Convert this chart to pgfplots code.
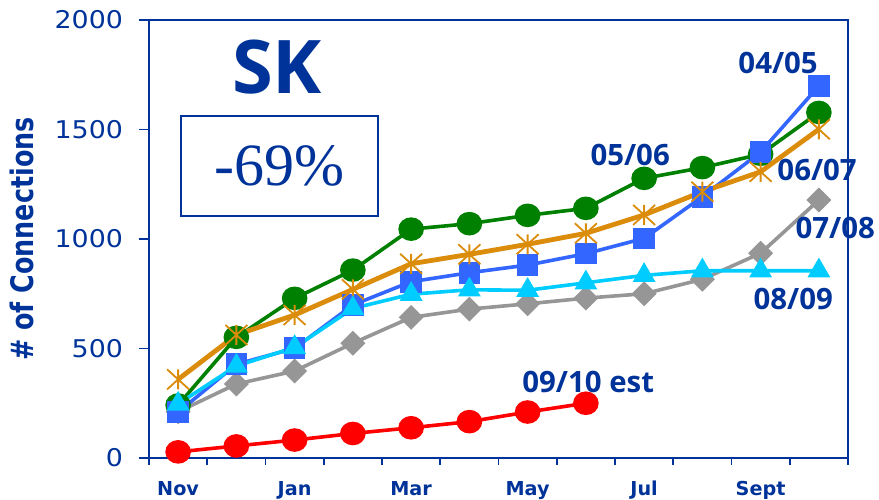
\documentclass[border=0pt]{standalone}
\usepackage{fontspec}
\setmainfont{DejaVu Sans}
\newfontfamily\tickfont[FakeStretch=1.1]{DejaVu Sans}
\newfontfamily\ylabfont[FakeStretch=0.82]{DejaVu Sans}
\newfontfamily\lblfont{Open Sans}
\newfontfamily\serfont{Liberation Serif}
\usepackage{pgfplots}
\pgfplotsset{compat=1.18}
\definecolor{tblue}{RGB}{0,51,153}
\definecolor{cgreen}{RGB}{0,128,0}
\definecolor{corange}{RGB}{218,140,10}
\definecolor{cblue}{RGB}{51,102,255}
\definecolor{ccyan}{RGB}{0,204,255}
\definecolor{cgray}{RGB}{150,150,150}
\definecolor{cred}{RGB}{255,0,0}
\pgfdeclareplotmark{xstar}{%
 \pgfpathmoveto{\pgfqpoint{0pt}{\pgfplotmarksize}}%
 \pgfpathlineto{\pgfqpoint{0pt}{-\pgfplotmarksize}}%
 \pgfpathmoveto{\pgfqpoint{-1.1\pgfplotmarksize}{\pgfplotmarksize}}%
 \pgfpathlineto{\pgfqpoint{1.1\pgfplotmarksize}{-\pgfplotmarksize}}%
 \pgfpathmoveto{\pgfqpoint{-1.1\pgfplotmarksize}{-\pgfplotmarksize}}%
 \pgfpathlineto{\pgfqpoint{1.1\pgfplotmarksize}{\pgfplotmarksize}}%
 \pgfusepathqstroke}
\begin{document}
\begin{tikzpicture}
\begin{axis}[
  at={(0,0)}, anchor=south west,
  scale only axis, width=349.5pt, height=219pt,
  xmin=-0.5, xmax=11.5, ymin=0, ymax=2000,
  axis line style={tblue, line width=0.9pt},
  clip=false,
  tick align=outside,
  xtick pos=bottom, ytick pos=left,
  xtick={0,2,4,6,8,10},
  xticklabels={Nov,Jan,Mar,May,Jul,Sept},
  minor xtick={-0.5,0.5,...,11.5},
  major x tick style={draw=none},
  minor tick length=3.5pt,
  minor x tick style={tblue, line width=0.9pt},
  ytick={0,500,1000,1500,2000},
  major tick length=5pt,
  y tick style={tblue, line width=0.9pt},
  /pgf/number format/assume math mode=true,
  /pgf/number format/1000 sep={},
  yticklabel style={font=\tickfont\fontsize{12.2}{14}\selectfont, text=tblue, xshift=-4.5pt},
  xticklabel style={font=\bfseries\fontsize{9.6}{11}\selectfont, text=tblue, yshift=-3pt},
]
% 07/08 gray
\addplot[cgray, line width=1.8pt, mark=square*, mark size=3.5pt, mark options={rotate=45, solid}]
 coordinates {(0,211)(1,338)(2,397)(3,524)(4,642)(5,680)(6,704)(7,730)(8,750)(9,816)(10,935)(11,1178)};
% 05/06 green
\addplot[cgreen, line width=1.8pt, mark=*, mark size=5pt, mark options={xscale=1.1, solid}]
 coordinates {(0,242)(1,551)(2,729)(3,858)(4,1045)(5,1070)(6,1108)(7,1140)(8,1277)(9,1326)(10,1387)(11,1578)};
% 04/05 blue
\addplot[cblue, line width=1.8pt, mark=square*, mark size=4.5pt, mark options={solid}]
 coordinates {(0,209)(1,428)(2,501)(3,699)(4,805)(5,846)(6,881)(7,933)(8,1003)(9,1193)(10,1397)(11,1699)};
% 06/07 orange
\addplot[corange, line width=2.4pt, mark=xstar, mark size=5pt, mark options={line width=0.9pt, solid}]
 coordinates {(0,359)(1,562)(2,653)(3,770)(4,887)(5,930)(6,976)(7,1026)(8,1110)(9,1216)(10,1307)(11,1501)};
% 08/09 cyan
\addplot[ccyan, line width=1.8pt, mark=triangle*, mark size=4.8pt, mark options={solid}]
 coordinates {(0,247)(1,420)(2,505)(3,683)(4,748)(5,768)(6,766)(7,800)(8,834)(9,855)(10,855)(11,855)};
% 09/10 est red
\addplot[cred, line width=1.8pt, mark=*, mark size=5pt, mark options={xscale=1.1, solid}]
 coordinates {(0,28)(1,55)(2,82)(3,112)(4,138)(5,166)(6,210)(7,250)};

\node[text=tblue, font=\lblfont\bfseries\fontsize{37}{40}\selectfont] at (axis cs:1.70,1785) {SK};
\node[draw=tblue, line width=1pt, minimum width=98.5pt, minimum height=50pt, inner sep=0pt,
      text=tblue, font=\serfont\fontsize{30}{32}\selectfont] at (axis cs:1.74,1333) {-69\%};
\begin{scope}[every node/.style={text=tblue, font=\lblfont\bfseries\fontsize{14.7}{16}\selectfont, inner sep=0pt}]
\node at (axis cs:10.30,1804) {04/05};
\node at (axis cs:7.76,1384) {05/06};
\node at (axis cs:10.97,1315) {06/07};
\node at (axis cs:11.28,1050) {07/08};
\node at (axis cs:10.56,726) {08/09};
\node at (axis cs:7.04,347) {09/10 est};
\end{scope}
\end{axis}
\node[rotate=90, text=tblue, font=\ylabfont\bfseries\fontsize{15.5}{17}\selectfont, inner sep=0pt] at (-63.5pt,109.5pt) {\# of Connections};
\pgfresetboundingbox
\path[use as bounding box] (-74.5pt,-20.5pt) rectangle (365pt,229pt);
\end{tikzpicture}
\end{document}
